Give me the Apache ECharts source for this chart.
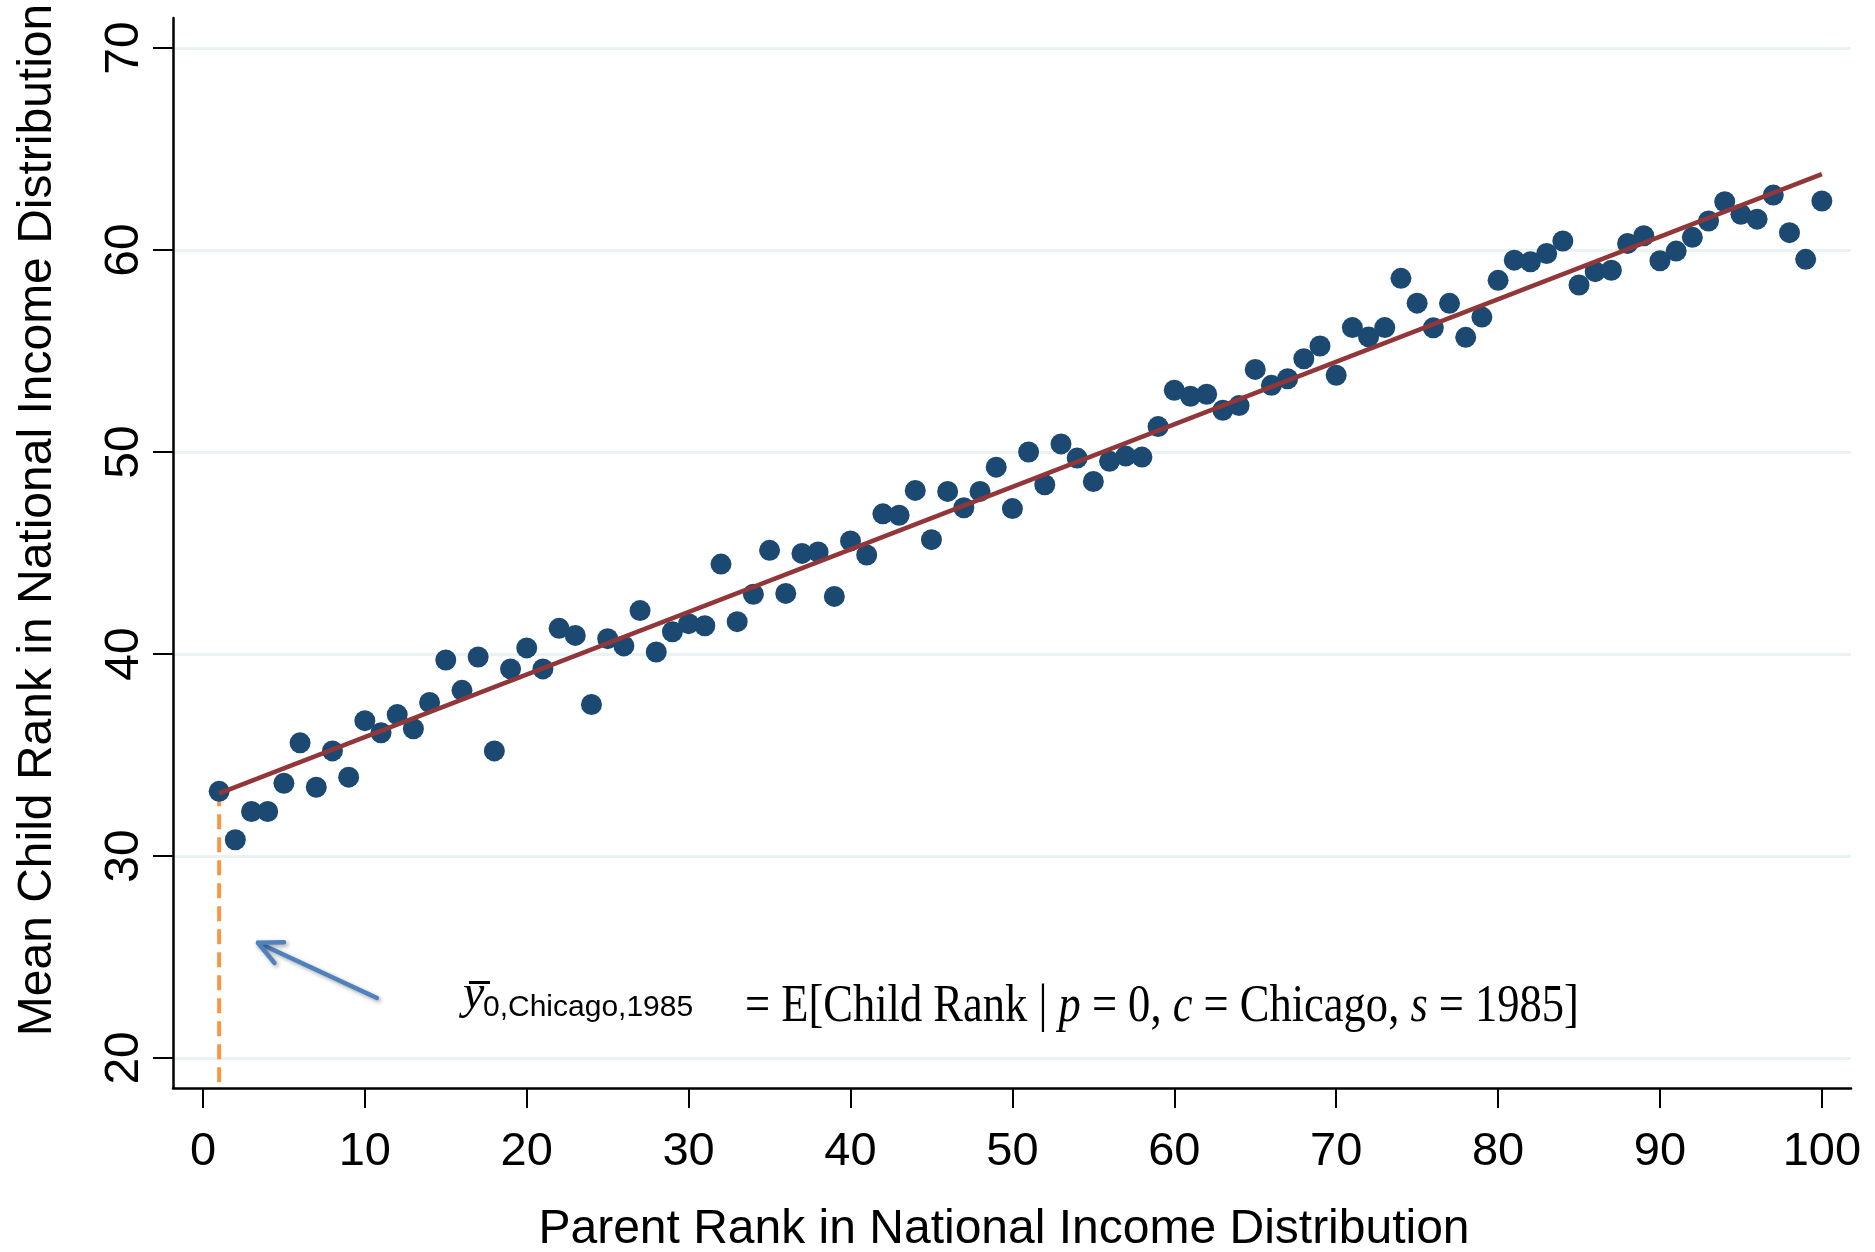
<!DOCTYPE html>
<html>
<head>
<meta charset="utf-8">
<script src="https://cdn.jsdelivr.net/npm/echarts@6/dist/echarts.min.js"></script>
<style>
html,body{margin:0;padding:0;background:#fff;}
#chart{width:1875px;height:1252px;}
</style>
</head>
<body>
<div id="chart"></div>
<script>
// ---- data ----
const parentRank = [1,2,3,4,5,6,7,8,9,10,11,12,13,14,15,16,17,18,19,20,21,22,23,24,25,26,27,28,29,30,31,32,33,34,35,36,37,38,39,40,41,42,43,44,45,46,47,48,49,50,51,52,53,54,55,56,57,58,59,60,61,62,63,64,65,66,67,68,69,70,71,72,73,74,75,76,77,78,79,80,81,82,83,84,85,86,87,88,89,90,91,92,93,94,95,96,97,98,99,100];
const childRank = [33.2,30.8,32.2,32.2,33.6,35.6,33.4,35.2,33.9,36.7,
  36.1,37.0,36.3,37.6,39.7,38.2,39.85,35.2,39.26,40.3,
  39.26,41.27,40.92,37.5,40.76,40.4,42.15,40.1,41.1,41.5,
  41.4,44.45,41.6,42.96,45.13,43.0,44.98,45.05,42.85,45.6,
  44.9,46.94,46.87,48.1,45.66,48.05,47.24,48.05,49.25,47.2,
  50.0,48.38,50.4,49.7,48.54,49.54,49.8,49.75,51.26,53.06,
  52.76,52.86,52.07,52.3,54.09,53.3,53.63,54.62,55.25,53.8,
  56.16,55.7,56.16,58.6,57.37,56.15,57.36,55.68,56.68,58.5,
  59.5,59.42,59.83,60.45,58.27,58.93,59.0,60.33,60.71,59.47,
  59.95,60.63,61.44,62.39,61.77,61.53,62.72,60.86,59.54,62.43];
const fitX = [1, 100];
const fitY = [33.1, 63.76];
const interceptX = 1;
const interceptY = 33.2;
const xTicks = [0,10,20,30,40,50,60,70,80,90,100];
const yTicks = [20,30,40,50,60,70];
const xRange = [-1.85, 101.8];
const yRange = [18.51, 71.49];
const arrowTip = [3.4, 25.7];
const arrowTail = [10.75, 22.97];
const xTitle = 'Parent Rank in National Income Distribution';
const yTitle = 'Mean Child Rank in National Income Distribution';

const scatterData = parentRank.map((x, i) => [x, childRank[i]]);
const fitData = fitX.map((x, i) => [x, fitY[i]]);

const chart = echarts.init(document.getElementById('chart'), null, {renderer: 'canvas'});
const FONT = '"Liberation Sans", Arial, sans-serif';
const option = {
  animation: false,
  backgroundColor: '#fff',
  grid: {left: 173, right: 24, top: 18, bottom: 164, containLabel: false, outerBoundsMode: 'none'},
  xAxis: {
    type: 'value', min: xRange[0], max: xRange[1],
    axisLine: {onZero: false, lineStyle: {color: '#000', width: 2.5}},
    axisTick: {show: true, length: 20, customValues: xTicks, lineStyle: {color: '#000', width: 2}},
    axisLabel: {customValues: xTicks, margin: 41, fontSize: 47, color: '#000', fontFamily: FONT},
    splitLine: {show: false},
    name: xTitle, nameLocation: 'middle', nameGap: 118,
    nameTextStyle: {fontSize: 48, color: '#000', fontFamily: FONT, padding: [0, 16, 0, 0]}
  },
  yAxis: {
    type: 'value', min: yRange[0], max: yRange[1],
    axisLine: {show: true, onZero: false, lineStyle: {color: '#000', width: 2.5}},
    axisTick: {show: true, length: 20, customValues: yTicks, lineStyle: {color: '#000', width: 2}},
    axisLabel: {customValues: yTicks, rotate: 90, margin: 24, fontSize: 48, color: '#000', fontFamily: FONT},
    splitLine: {show: true, lineStyle: {color: '#eaf2f3', width: 3}}
  },
  series: [
    {
      type: 'line', data: [[interceptX, interceptY], [interceptX, yRange[0]]],
      symbol: 'none', z: 1,
      lineStyle: {color: '#f79646', width: 4, type: [15, 8]}
    },
    {
      type: 'scatter', data: scatterData, symbolSize: 21, z: 2,
      itemStyle: {color: '#1b4972', opacity: 1}
    },
    {
      type: 'line', data: fitData, symbol: 'none', z: 3,
      lineStyle: {color: '#923739', width: 4.5}
    }
  ]
};
chart.setOption(option);

const tip = chart.convertToPixel({gridIndex: 0}, arrowTip);
const tail = chart.convertToPixel({gridIndex: 0}, arrowTail);
const ang = Math.atan2(tail[1] - tip[1], tail[0] - tip[0]);
const armLen = 26, spread = 26 * Math.PI / 180;
const arm1 = [tip[0] + armLen * Math.cos(ang - spread), tip[1] + armLen * Math.sin(ang - spread)];
const arm2 = [tip[0] + armLen * Math.cos(ang + spread), tip[1] + armLen * Math.sin(ang + spread)];
const arrowStyle = {stroke: '#4f81bd', lineWidth: 4.5, lineCap: 'round', lineJoin: 'round',
  shadowBlur: 4, shadowColor: 'rgba(0,0,0,0.35)', shadowOffsetX: 2, shadowOffsetY: 2, fill: null};

chart.setOption({
  graphic: [
    {type: 'text', x: 38, y: 520, rotation: Math.PI / 2,
      style: {text: yTitle, fontSize: 48, fontFamily: FONT, fill: '#000', align: 'center', verticalAlign: 'middle'}},
    {type: 'polyline', shape: {points: [tail, tip]}, style: arrowStyle, z: 10},
    {type: 'polyline', shape: {points: [arm1, tip, arm2]}, style: arrowStyle, z: 10},
    {type: 'text', x: 463, y: 995,
      style: {text: 'y', fontSize: 48, fontStyle: 'italic', fontFamily: '"Liberation Serif", serif', fill: '#000', align: 'left', verticalAlign: 'middle'}},
    {type: 'rect', shape: {x: 469, y: 981, width: 21, height: 3}, style: {fill: '#000'}},
    {type: 'text', x: 483, y: 1008,
      style: {text: '0,Chicago,1985', fontSize: 30, fontFamily: FONT, fill: '#000', align: 'left', verticalAlign: 'middle'}},
    {type: 'text', x: 745, y: 1007, scaleX: 0.84,
      style: {text: '= E[Child Rank | {i|p} = 0, {i|c} = Chicago, {i|s} = 1985]', fontSize: 53,
        fontFamily: '"Liberation Serif", serif', fill: '#000', align: 'left', verticalAlign: 'middle',
        rich: {i: {fontStyle: 'italic', fontSize: 53, fontFamily: '"Liberation Serif", serif', fill: '#000'}}}}
  ]
});
</script>
</body>
</html>
